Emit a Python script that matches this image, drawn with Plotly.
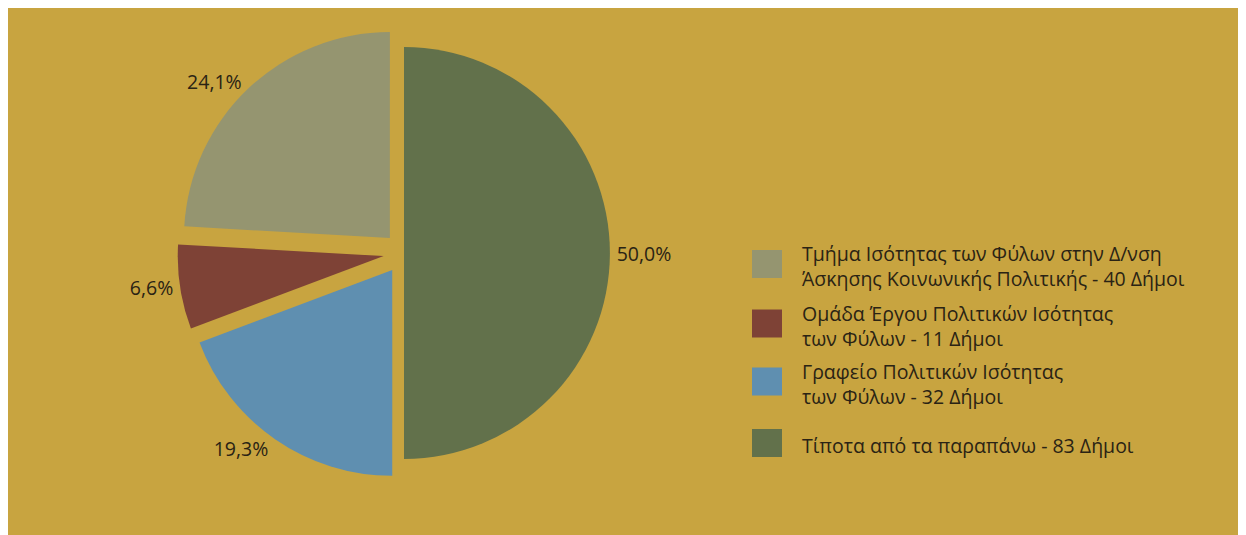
import plotly.graph_objects as go

# ---- data (legend order) ----
categories = [
    "Τμήμα Ισότητας των Φύλων στην Δ/νση<br>Άσκησης Κοινωνικής Πολιτικής",
    "Ομάδα Έργου Πολιτικών Ισότητας<br>των Φύλων",
    "Γραφείο Πολιτικών Ισότητας<br>των Φύλων",
    "Τίποτα από τα παραπάνω",
]
municipalities = [40, 11, 32, 83]
colors = ["#959570", "#7E4236", "#5F8FB0", "#62714B"]
pulls = [0.1, 0.1, 0.1, 0.0]

W, H = 1246, 535
BG = "#C8A440"
TXT = "#2a2314"
FONT = "Open Sans"
FS = 19.5

# pie box in figure pixels
PCX, PCY, PHALF = 396, 245, 226.5

fig = go.Figure()
# pie drawn clockwise from 12 o'clock in reverse legend order
fig.add_trace(go.Pie(
    labels=[c.replace("<br>", " ") for c in categories][::-1],
    values=municipalities[::-1],
    marker=dict(colors=colors[::-1], line=dict(width=0)),
    pull=pulls[::-1],
    sort=False,
    direction="clockwise",
    rotation=0,
    textposition="outside",
    texttemplate="%{percent:.1%}",
    textfont=dict(family=FONT, size=FS, color=TXT),
    showlegend=False,
    hoverinfo="label+value+percent",
    domain=dict(
        x=[(PCX - PHALF) / W, (PCX + PHALF) / W],
        y=[1 - (PCY + PHALF) / H, 1 - (PCY - PHALF) / H],
    ),
))

# custom legend (large square keys like the original)
key_centers = [256, 315.5, 373.5, 435]  # px from top of figure
shapes = []
annotations = []
for i, (cat, n, col) in enumerate(zip(categories, municipalities, colors)):
    yc = key_centers[i]
    shapes.append(dict(
        type="rect", xref="paper", yref="paper",
        x0=744 / W, x1=774 / W,
        y0=1 - (yc + 14) / H, y1=1 - (yc - 14) / H,
        fillcolor=col, line=dict(width=0), layer="below",
    ))
    annotations.append(dict(
        xref="paper", yref="paper",
        x=792 / W, y=1 - (yc + 2) / H,
        xanchor="left", yanchor="middle", align="left",
        text=f"{cat} - {n} Δήμοι", showarrow=False,
        font=dict(family=FONT, size=FS, color=TXT),
    ))

fig.update_layout(
    width=W, height=H,
    margin=dict(l=0, r=0, t=0, b=0, pad=0, autoexpand=False),
    paper_bgcolor=BG,
    plot_bgcolor=BG,
    separators=", ",
    shapes=shapes,
    annotations=annotations,
    font=dict(family=FONT, color=TXT),
)

fig.write_html("out.html")
